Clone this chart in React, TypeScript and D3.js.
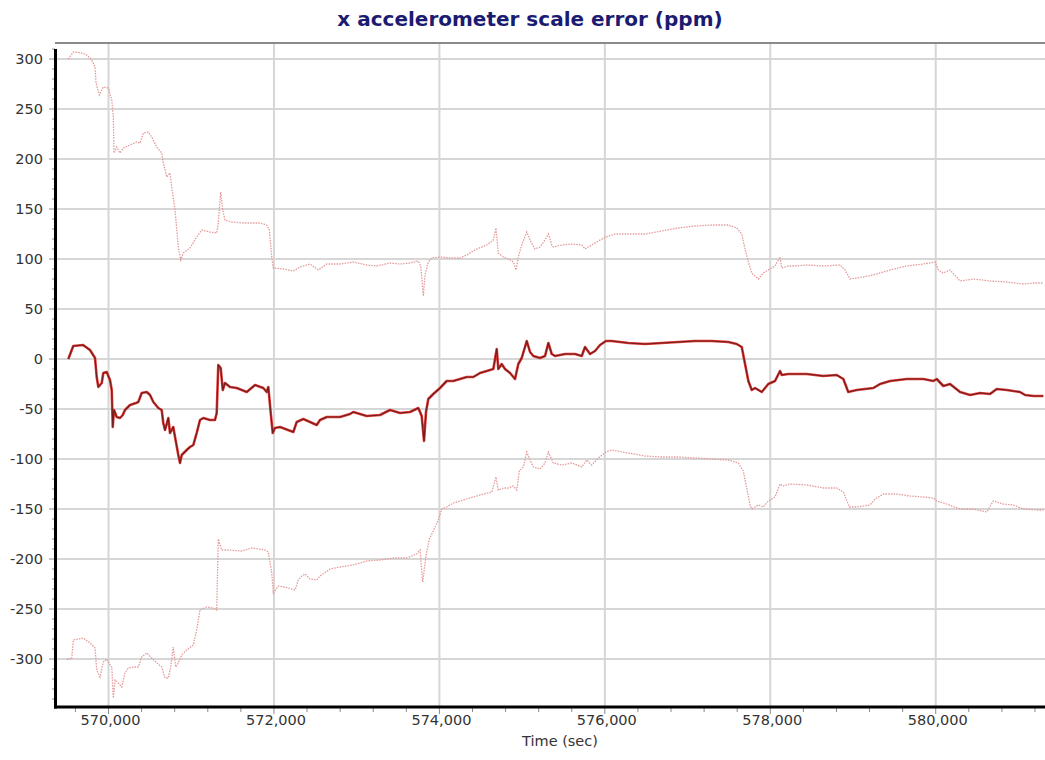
import React from "react";
import * as d3 from "d3";

const chartTitle = "x accelerometer scale error (ppm)";
const xAxisLabel = "Time (sec)";
const yTickValues = [-300, -250, -200, -150, -100, -50, 0, 50, 100, 150, 200, 250, 300];
const xTickValues = [570000, 572000, 574000, 576000, 578000, 580000];
const xDomain = [569353, 581321];
const yDomain = [-348, 316];

const centerSeries: [number, number][] = [[569514,0],[569574,13],[569692,14],[569776,9],[569837,1],[569857,-18],[569877,-28],[569918,-24],[569937,-14],[569978,-13],[570018,-21],[570039,-31],[570051,-68],[570066,-51],[570099,-58],[570139,-59],[570172,-56],[570199,-51],[570260,-46],[570332,-44],[570360,-43],[570401,-34],[570462,-33],[570502,-36],[570542,-43],[570602,-49],[570643,-51],[570662,-64],[570683,-71],[570723,-59],[570743,-74],[570783,-68],[570804,-78],[570844,-96],[570864,-104],[570885,-96],[570945,-91],[570985,-88],[571025,-86],[571066,-74],[571106,-61],[571146,-59],[571227,-61],[571287,-61],[571308,-54],[571327,-6],[571356,-9],[571381,-31],[571408,-24],[571469,-28],[571550,-29],[571671,-33],[571771,-26],[571871,-29],[571912,-33],[571932,-28],[571961,-54],[571985,-74],[572013,-69],[572073,-68],[572234,-73],[572275,-63],[572355,-60],[572517,-66],[572557,-61],[572638,-58],[572799,-58],[572919,-55],[572959,-53],[573121,-57],[573282,-56],[573403,-51],[573524,-54],[573645,-53],[573745,-49],[573786,-57],[573814,-82],[573838,-53],[573866,-40],[573926,-35],[574008,-29],[574088,-22],[574168,-22],[574249,-20],[574330,-18],[574410,-18],[574491,-14],[574572,-12],[574652,-10],[574693,10],[574712,-10],[574753,-5],[574793,-10],[574854,-14],[574914,-20],[574954,-5],[574995,1],[575056,18],[575096,7],[575135,3],[575216,1],[575277,3],[575317,16],[575358,5],[575398,3],[575519,5],[575640,5],[575721,3],[575760,12],[575821,5],[575881,8],[575942,14],[576014,18],[576083,18],[576284,16],[576486,15],[576688,16],[576888,17],[577090,18],[577292,18],[577493,17],[577594,15],[577655,12],[577695,-5],[577735,-22],[577776,-31],[577816,-29],[577897,-33],[577937,-29],[577976,-25],[578057,-22],[578118,-12],[578138,-16],[578218,-15],[578299,-15],[578441,-15],[578641,-17],[578803,-16],[578883,-20],[578943,-33],[579045,-31],[579246,-29],[579327,-25],[579448,-22],[579650,-20],[579850,-20],[579971,-22],[580012,-20],[580092,-27],[580173,-25],[580294,-33],[580415,-36],[580536,-34],[580656,-35],[580738,-30],[580858,-31],[581019,-33],[581080,-36],[581180,-37],[581301,-37]];

const upperBound: [number, number][] = [[569514,300],[569574,307],[569676,306],[569736,304],[569797,299],[569837,292],[569849,276],[569889,264],[569937,272],[569998,271],[570039,259],[570058,242],[570066,206],[570099,212],[570139,206],[570179,211],[570260,214],[570341,217],[570381,216],[570421,226],[570481,227],[570522,222],[570583,212],[570643,206],[570662,196],[570704,182],[570743,186],[570764,172],[570804,149],[570844,112],[570873,99],[570904,106],[570985,111],[571066,122],[571127,129],[571227,127],[571308,126],[571327,136],[571356,167],[571381,149],[571408,139],[571489,137],[571630,136],[571750,136],[571831,136],[571912,134],[571944,129],[571973,102],[571992,91],[572113,90],[572234,88],[572315,92],[572436,95],[572536,89],[572638,95],[572799,95],[572959,97],[573121,94],[573242,93],[573403,96],[573524,95],[573645,96],[573745,98],[573774,93],[573806,63],[573826,84],[573866,97],[573907,101],[574008,102],[574128,101],[574249,101],[574330,104],[574451,110],[574572,114],[574652,119],[574684,131],[574712,106],[574773,102],[574833,100],[574894,97],[574926,89],[574954,102],[574995,114],[575056,127],[575096,119],[575156,110],[575216,112],[575277,119],[575317,125],[575358,114],[575377,112],[575479,114],[575600,115],[575721,114],[575760,110],[575841,114],[575921,118],[576014,122],[576123,125],[576284,125],[576486,125],[576688,128],[576888,131],[577090,133],[577292,134],[577493,134],[577594,131],[577655,125],[577695,110],[577735,97],[577776,86],[577856,80],[577916,86],[577976,89],[578057,93],[578118,102],[578138,91],[578218,93],[578299,93],[578441,94],[578641,93],[578843,94],[578904,89],[578964,80],[579125,82],[579287,85],[579448,89],[579650,93],[579850,95],[579992,97],[580032,89],[580092,86],[580173,89],[580294,78],[580455,80],[580656,78],[580858,77],[581059,75],[581180,76],[581301,76]];

const lowerBound: [number, number][] = [[569495,-300],[569555,-300],[569574,-281],[569635,-280],[569695,-279],[569776,-284],[569837,-289],[569857,-311],[569897,-318],[569937,-303],[569978,-300],[570018,-306],[570039,-308],[570058,-339],[570079,-321],[570118,-324],[570160,-328],[570199,-314],[570239,-309],[570300,-308],[570360,-308],[570401,-298],[570462,-294],[570522,-299],[570583,-304],[570643,-308],[570683,-319],[570723,-319],[570752,-308],[570783,-288],[570812,-308],[570844,-304],[570885,-296],[570945,-291],[571025,-286],[571066,-271],[571106,-251],[571187,-248],[571267,-249],[571308,-251],[571327,-180],[571368,-191],[571448,-191],[571610,-192],[571731,-189],[571811,-190],[571892,-191],[571932,-193],[571973,-214],[571992,-234],[572053,-227],[572174,-229],[572255,-231],[572294,-221],[572336,-217],[572376,-215],[572436,-220],[572517,-221],[572557,-217],[572678,-210],[572799,-208],[572959,-206],[573121,-202],[573282,-201],[573443,-199],[573605,-199],[573726,-195],[573766,-191],[573798,-223],[573838,-197],[573878,-180],[573926,-172],[573987,-161],[574028,-150],[574088,-148],[574168,-144],[574249,-142],[574330,-140],[574410,-138],[574531,-135],[574633,-133],[574684,-118],[574712,-131],[574773,-129],[574833,-129],[574894,-127],[574935,-131],[574966,-112],[575015,-108],[575056,-93],[575096,-101],[575135,-108],[575216,-110],[575277,-104],[575317,-93],[575377,-104],[575479,-106],[575600,-104],[575721,-108],[575781,-101],[575841,-106],[575921,-99],[576014,-93],[576083,-91],[576284,-94],[576486,-97],[576688,-98],[576888,-98],[577090,-99],[577292,-100],[577493,-101],[577613,-104],[577674,-112],[577715,-129],[577755,-146],[577776,-150],[577856,-146],[577916,-148],[577976,-142],[578057,-138],[578118,-125],[578158,-127],[578239,-125],[578441,-126],[578641,-129],[578803,-129],[578883,-133],[578956,-148],[579045,-148],[579206,-146],[579266,-140],[579367,-135],[579529,-135],[579689,-137],[579850,-138],[579971,-139],[580012,-142],[580133,-145],[580294,-150],[580455,-150],[580617,-153],[580696,-142],[580817,-145],[580938,-146],[581059,-150],[581221,-151],[581301,-151]];

const W = 1045;
const H = 760;
const plot = { left: 55, right: 1045, top: 43, bottom: 707 };
const FONT = "'DejaVu Sans', Verdana, sans-serif";

export default function App() {
  const x = d3.scaleLinear().domain(xDomain).range([plot.left, plot.right]);
  const y = d3.scaleLinear().domain(yDomain).range([plot.bottom, plot.top]);
  const line = d3
    .line<[number, number]>()
    .x((d) => x(d[0]))
    .y((d) => y(d[1]));

  const yMinor = d3.range(-340, 316, 10).filter((v) => v % 50 !== 0);
  const xMinor = d3.range(569600, 581321, 400).filter((v) => v % 2000 !== 0);
  const fmt = d3.format(",");

  return (
    <svg
      width={W}
      height={H}
      style={{ position: "absolute", left: 0, top: 0, background: "#fff" }}
      fontFamily={FONT}
    >
      <defs>
        <clipPath id="plotClip">
          <rect x={plot.left + 2} y={plot.top + 1} width={plot.right - plot.left} height={plot.bottom - plot.top - 2} />
        </clipPath>
      </defs>
      <rect x={0} y={0} width={W} height={H} fill="#fff" />
      <text
        x={530}
        y={26}
        textAnchor="middle"
        fontSize={20}
        fontWeight="bold"
        fill="#1b1b72"
      >
        {chartTitle}
      </text>

      {/* gridlines */}
      <g stroke="#d6d6d6" strokeWidth={2}>
        {yTickValues.map((v) => (
          <line key={"gy" + v} x1={plot.left} x2={plot.right} y1={y(v)} y2={y(v)} />
        ))}
        {xTickValues.map((v) => (
          <line key={"gx" + v} x1={x(v)} x2={x(v)} y1={plot.top} y2={plot.bottom} />
        ))}
      </g>

      {/* top frame */}
      <line x1={plot.left} x2={plot.right} y1={plot.top} y2={plot.top} stroke="#8a8a8a" strokeWidth={2} />

      {/* series */}
      <g clipPath="url(#plotClip)" fill="none">
        <path d={line(upperBound) || ""} stroke="#e49a9a" strokeWidth={1.3} strokeDasharray="1.5 1.2" />
        <path d={line(lowerBound) || ""} stroke="#e49a9a" strokeWidth={1.3} strokeDasharray="1.5 1.2" />
        <path d={line(centerSeries) || ""} stroke="#de3a36" strokeWidth={2.6} strokeLinejoin="round" />
        <path d={line(centerSeries) || ""} stroke="#6e1c1c" strokeWidth={1.1} strokeLinejoin="round" />
      </g>

      {/* ticks */}
      <g stroke="#8a8a8a" strokeWidth={1}>
        {yTickValues.map((v) => (
          <line key={"ty" + v} x1={plot.left - 6} x2={plot.left} y1={y(v)} y2={y(v)} />
        ))}
        {yMinor.map((v) => (
          <line key={"my" + v} x1={plot.left - 3} x2={plot.left} y1={y(v)} y2={y(v)} />
        ))}
        {xTickValues.map((v) => (
          <line key={"tx" + v} x1={x(v)} x2={x(v)} y1={plot.bottom} y2={plot.bottom + 7} />
        ))}
        {xMinor.map((v) => (
          <line key={"mx" + v} x1={x(v)} x2={x(v)} y1={plot.bottom} y2={plot.bottom + 5} />
        ))}
      </g>

      {/* axes */}
      <line x1={plot.left + 0.5} x2={plot.left + 0.5} y1={plot.top + 6} y2={plot.bottom + 1.5} stroke="#000" strokeWidth={3} />
      <line x1={plot.left - 1} x2={plot.right} y1={plot.bottom} y2={plot.bottom} stroke="#000" strokeWidth={3} />

      {/* tick labels */}
      <g fontSize={14.5} fill="#333">
        {yTickValues.map((v) => (
          <text key={"ly" + v} x={43} y={y(v) + 5} textAnchor="end">
            {v}
          </text>
        ))}
        {xTickValues.map((v) => (
          <text key={"lx" + v} x={x(v) + 2} y={725} textAnchor="middle">
            {fmt(v)}
          </text>
        ))}
      </g>
      <text x={560} y={746} textAnchor="middle" fontSize={14.5} fill="#333">
        {xAxisLabel}
      </text>
    </svg>
  );
}
